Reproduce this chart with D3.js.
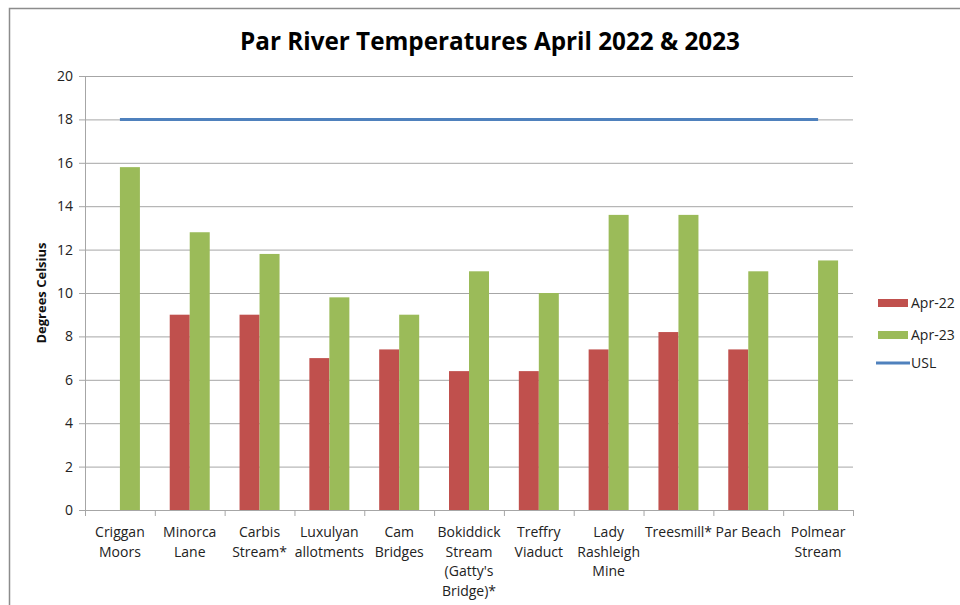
<!DOCTYPE html>
<html><head><meta charset="utf-8">
<script src="https://cdn.jsdelivr.net/npm/d3@7"></script>
<style>
body{margin:0;background:#fff;}
text{font-family:"Open Sans","Noto Sans",sans-serif;}
</style></head>
<body><svg id="c" width="960" height="605"></svg>
<script>
const categories = [["Criggan","Moors"],["Minorca","Lane"],["Carbis","Stream*"],["Luxulyan","allotments"],["Cam","Bridges"],["Bokiddick","Stream","(Gatty's","Bridge)*"],["Treffry","Viaduct"],["Lady","Rashleigh","Mine"],["Treesmill*"],["Par Beach"],["Polmear","Stream"]];
const apr22 = [null, 9, 9, 7, 7.4, 6.4, 6.4, 7.4, 8.2, 7.4, null];
const apr23 = [15.8, 12.8, 11.8, 9.8, 9, 11, 10, 13.6, 13.6, 11, 11.5];
const usl = 18;
const yTicks = [0,2,4,6,8,10,12,14,16,18,20];
const seriesNames = ["Apr-22","Apr-23","USL"];
const colors = {"Apr-22":"#C0504D","Apr-23":"#9BBB59","USL":"#4F81BD"};

const svg = d3.select("#c");
svg.append("rect").attr("x",9.5).attr("y",8.5).attr("width",960).attr("height",620)
  .attr("fill","#fff").attr("stroke","#8c8c8c").attr("stroke-width",1.5);

const L=85,R=853,T=76,B=510;
const x = d3.scaleBand().domain(d3.range(categories.length)).range([L,R]).paddingInner(0).paddingOuter(0);
const bw = 20;
const y = d3.scaleLinear().domain([0,20]).range([B,T]);

// gridlines
svg.append("g").selectAll("line").data(yTicks).join("line")
  .attr("x1",L-6).attr("x2",R).attr("y1",d=>y(d)+0.5).attr("y2",d=>y(d)+0.5)
  .attr("stroke","#a6a6a6").attr("stroke-width",1);
svg.append("line").attr("x1",L+0.5).attr("x2",L+0.5).attr("y1",T).attr("y2",B).attr("stroke","#a6a6a6");
// x axis ticks
svg.append("g").selectAll("line").data(d3.range(categories.length+1)).join("line")
  .attr("x1",i=>L+i*x.bandwidth()+0.5).attr("x2",i=>L+i*x.bandwidth()+0.5)
  .attr("y1",B).attr("y2",B+6).attr("stroke","#a6a6a6");

// y labels
svg.append("g").selectAll("text").data(yTicks).join("text")
  .attr("x",L-12).attr("y",d=>y(d)).attr("dy","0.35em").attr("text-anchor","end")
  .attr("font-size",14).attr("fill","#222").text(d=>d);

svg.append("text").attr("transform",`translate(46,${(T+B)/2}) rotate(-90)`)
  .attr("text-anchor","middle").attr("font-size",13).attr("font-weight","bold").attr("fill","#111")
  .text("Degrees Celsius");

// bars
const cx = i => x(i)+x.bandwidth()/2;
svg.append("g").selectAll("rect").data(apr22.map((v,i)=>({v,i})).filter(d=>d.v!=null)).join("rect")
  .attr("x",d=>cx(d.i)-bw).attr("width",bw).attr("y",d=>y(d.v)).attr("height",d=>B-y(d.v))
  .attr("fill",colors["Apr-22"]);
svg.append("g").selectAll("rect").data(apr23.map((v,i)=>({v,i})).filter(d=>d.v!=null)).join("rect")
  .attr("x",d=>cx(d.i)).attr("width",bw).attr("y",d=>y(d.v)).attr("height",d=>B-y(d.v))
  .attr("fill",colors["Apr-23"]);

// USL line
const line = d3.line().x(d=>cx(d)).y(()=>y(usl));
svg.append("path").datum(d3.range(categories.length)).attr("d",line)
  .attr("fill","none").attr("stroke",colors.USL).attr("stroke-width",3);

// category labels
const cl = svg.append("g").selectAll("text").data(categories).join("text")
  .attr("x",(d,i)=>cx(i)).attr("y",537).attr("text-anchor","middle").attr("font-size",14).attr("fill","#222");
cl.selectAll("tspan").data(d=>d).join("tspan").attr("x",function(){return this.parentNode.getAttribute("x");})
  .attr("dy",(d,j)=>j===0?0:19.5).text(d=>d);

// title
svg.append("text").attr("x",490).attr("y",50).attr("text-anchor","middle")
  .attr("font-size",25).attr("font-weight","bold").attr("fill","#000")
  .attr("textLength",500).attr("lengthAdjust","spacingAndGlyphs")
  .text("Par River Temperatures April 2022 & 2023");

// legend
const lg = svg.append("g");
const ly = [303,335,363];
seriesNames.forEach((s,i)=>{
  if(s==="USL"){
    lg.append("line").attr("x1",876).attr("x2",910).attr("y1",ly[i]).attr("y2",ly[i]).attr("stroke",colors[s]).attr("stroke-width",3);
  } else {
    lg.append("rect").attr("x",878).attr("y",ly[i]-4).attr("width",30).attr("height",8).attr("fill",colors[s]);
  }
  lg.append("text").attr("x",911).attr("y",ly[i]).attr("dy","0.35em").attr("font-size",14).attr("fill","#222").text(s);
});
</script></body></html>
